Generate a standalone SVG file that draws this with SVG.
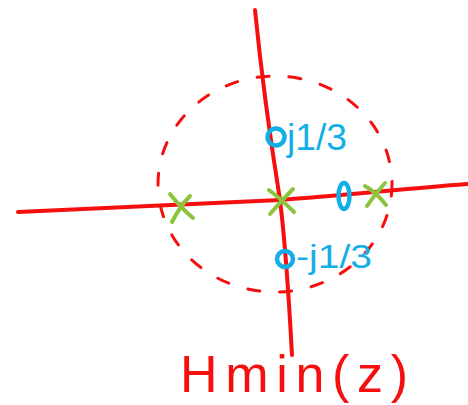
<svg xmlns="http://www.w3.org/2000/svg" width="468" height="405" viewBox="0 0 468 405">
<style>
.ax{fill:none;stroke:#f50f0f;stroke-width:4;stroke-linecap:round}
.dash{fill:none;stroke:#f50f0f;stroke-width:3;stroke-linecap:round;stroke-dasharray:12 20}
.pole{fill:none;stroke:#8cc43c;stroke-width:4;stroke-linecap:round}
.zero{fill:none;stroke:#14aee6;stroke-width:4.5;stroke-linecap:round}
.lbl{fill:#14aee6;font-family:"Liberation Sans",Arial,sans-serif}
.title{fill:#f50f0f;font-family:"Liberation Sans",Arial,sans-serif}
</style>
<rect width="468" height="405" fill="#ffffff"/>
<g id="connectors">
  <path class="ax" d="M255,10 C262,80 272,150 280,200 C285,240 289,300 292,355"/>
  <path class="ax" d="M18,212 C120,208 200,204 280,200 C340,196 400,189 467,184"/>
</g>
<g id="circle">
  <ellipse class="dash" cx="275" cy="184" rx="117" ry="108"/>
</g>
<g id="pole-left"><path class="pole" d="M170,194 Q180,207 193,218 M190,196 Q180,206 172,222"/></g>
<g id="pole-origin"><path class="pole" d="M269,190 Q281,199 294,212 M293,189 Q282,200 270,214"/></g>
<g id="pole-right"><path class="pole" d="M365,186 Q376,192 386,205 M385,183 Q375,194 367,206"/></g>
<g id="zero-top"><circle class="zero" cx="276" cy="137" r="8.5"/><text class="lbl" x="287" y="150" font-size="36" textLength="60" lengthAdjust="spacingAndGlyphs">j1/3</text></g>
<g id="zero-bottom"><circle class="zero" cx="285" cy="259" r="8"/><text class="lbl" x="296" y="268" font-size="34" textLength="76" lengthAdjust="spacingAndGlyphs">-j1/3</text></g>
<g id="zero-right"><ellipse class="zero" cx="344" cy="196" rx="5.5" ry="13"/></g>
<g id="title"><text class="title" x="180" y="392" font-size="52" textLength="228" lengthAdjust="spacing">Hmin(z)</text></g>
</svg>
